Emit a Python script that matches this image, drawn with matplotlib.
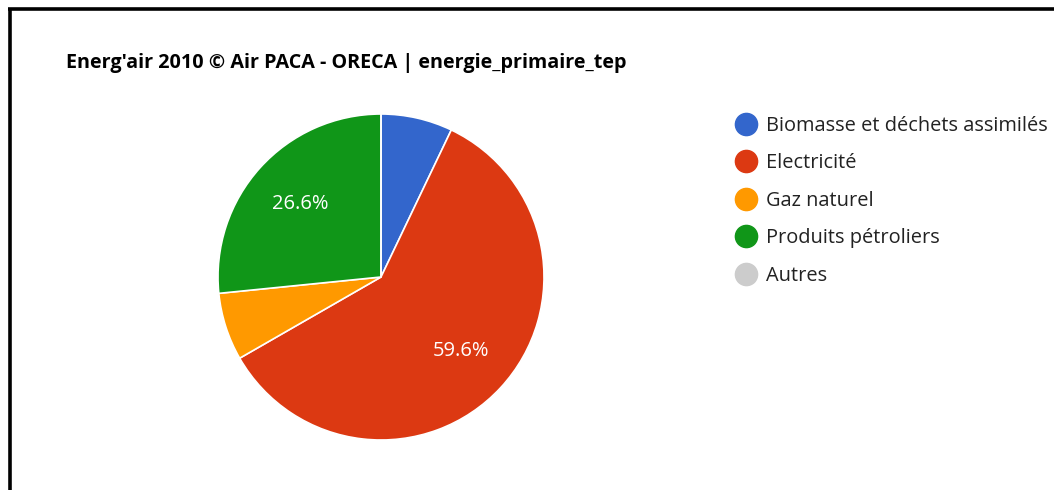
import matplotlib.pyplot as plt
from matplotlib.lines import Line2D

# energie primaire (tep), parts en %
labels = ["Biomasse et déchets assimilés", "Electricité", "Gaz naturel",
          "Produits pétroliers", "Autres"]
values = [7.1, 59.6, 6.7, 26.6, 0.0]
colors = ["#3366cc", "#dc3912", "#ff9900", "#109618", "#cccccc"]
title = "Energ'air 2010 © Air PACA - ORECA | energie_primaire_tep"

W, H = 1054, 490
plt.rcParams['font.family'] = ['Open Sans', 'DejaVu Sans']

fig = plt.figure(figsize=(W / 100, H / 100), dpi=100)
ax = fig.add_axes([0, 0, 1, 1])
ax.set_xlim(0, W)
ax.set_ylim(0, H)
ax.set_aspect('equal')
ax.axis('off')


def pct(p):
    # google hides labels on small slices
    return f"{p:.1f}%" if p >= 10 else ""


wedges, texts, autotexts = ax.pie(
    values, colors=colors, startangle=90, counterclock=False,
    center=(381, H - 277), radius=163, autopct=pct, pctdistance=0.67,
    wedgeprops=dict(edgecolor='white', linewidth=1.2),
    textprops=dict(color='white', fontsize=14.5))
ax.set_xlim(0, W)
ax.set_ylim(0, H)

fig.text(66 / W, 1 - 63 / H, title, fontsize=14.2, fontweight='bold',
         ha='left', va='center', color='#000000')

handles = [Line2D([], [], marker='o', linestyle='none', markersize=16,
                  markerfacecolor=c, markeredgecolor=c) for c in colors]
leg = fig.legend(handles, labels, loc='upper left',
                 bbox_to_anchor=(726 / W, 1 - 108 / H), frameon=False,
                 fontsize=14.4, labelspacing=0.87, handletextpad=0.42,
                 handlelength=1.2, borderaxespad=0)
for t in leg.get_texts():
    t.set_color('#222222')

# black frame (top and left edges of the screenshot)
fig.add_artist(Line2D([8 / W, 1], [1 - 9.5 / H, 1 - 9.5 / H], color='black',
                      linewidth=2.6, solid_capstyle='butt',
                      transform=fig.transFigure))
fig.add_artist(Line2D([9.5 / W, 9.5 / W], [0, 1 - 8 / H], color='black',
                      linewidth=2.6, solid_capstyle='butt',
                      transform=fig.transFigure))

fig.savefig("out.png", dpi=100)
